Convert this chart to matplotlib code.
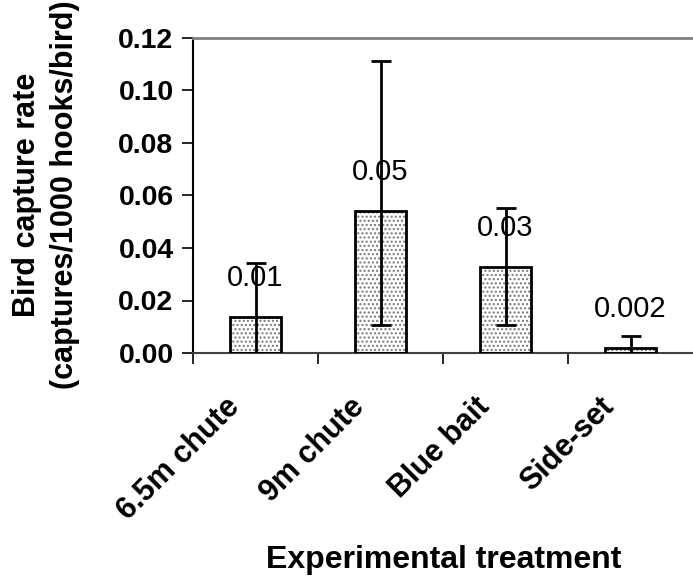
import matplotlib
matplotlib.use('Agg')
import matplotlib.pyplot as plt
from matplotlib.transforms import ScaledTranslation

plt.rcParams['font.family'] = ['Liberation Sans', 'DejaVu Sans']

treatments = ['6.5m chute', '9m chute', 'Blue bait', 'Side-set']
rates = [0.0138, 0.0541, 0.0329, 0.0020]
err_low = [0.0204, 0.0434, 0.0222, 0.0045]
err_high = [0.0204, 0.0572, 0.0224, 0.0045]
value_labels = ['0.01', '0.05', '0.03', '0.002']
y_ticks = [0.00, 0.02, 0.04, 0.06, 0.08, 0.10, 0.12]

fig = plt.figure(figsize=(6.93, 5.78), dpi=100)
ax = fig.add_axes([193 / 693, 225 / 578, 500 / 693, 315 / 578])

x = list(range(len(treatments)))

# dotted fill first, then the black outline on top
ax.bar(x, rates, width=0.41, color='white', edgecolor='#777777',
       hatch='....', linewidth=0, zorder=2)
ax.bar(x, rates, width=0.41, fill=False, edgecolor='black',
       linewidth=2, zorder=3)
ax.errorbar(x, rates, yerr=[err_low, err_high], fmt='none', ecolor='black',
            elinewidth=2, capsize=7.5, capthick=2, zorder=4)

for xi, r, lab in zip(x, rates, value_labels):
    ax.annotate(lab, (xi, r), xytext=(0, 28), textcoords='offset points',
                ha='center', va='center', fontsize=21, zorder=5)

ax.set_xlim(-0.5, 3.5)
ax.set_ylim(0, 0.12)
ax.set_yticks(y_ticks)
ax.set_yticklabels(['%.2f' % t for t in y_ticks], fontsize=20.5, fontweight='bold')
ax.tick_params(axis='y', direction='out', length=8, width=1.2, pad=6)

# ticks on category boundaries, labels in the middle
ax.set_xticks([-0.5, 0.5, 1.5, 2.5], minor=True)
ax.set_xticks(x)
ax.set_xticklabels(treatments, rotation=45, ha='right', fontsize=22,
                   fontweight='bold')
ax.tick_params(axis='x', which='major', length=0, pad=28)
ax.tick_params(axis='x', which='minor', direction='out', length=8, width=1.2)
shift = ScaledTranslation(-0.10, 0, fig.dpi_scale_trans)
for lbl in ax.get_xticklabels():
    lbl.set_transform(lbl.get_transform() + shift)

ax.spines['right'].set_visible(False)
ax.spines['top'].set_color('#808080')
ax.spines['top'].set_linewidth(2)
ax.spines['left'].set_linewidth(1.5)
ax.spines['bottom'].set_linewidth(1.5)
ax.spines['bottom'].set_color('#404040')

fig.text(46 / 693, 1 - 195 / 578, 'Bird capture rate\n(captures/1000 hooks/bird)',
         rotation=90, ha='center', va='center', multialignment='center',
         fontsize=22, fontweight='bold', linespacing=1.35)
fig.text(444 / 693, 1 - 560 / 578, 'Experimental treatment', ha='center',
         va='center', fontsize=23, fontweight='bold')

fig.savefig('out.png', dpi=100)
